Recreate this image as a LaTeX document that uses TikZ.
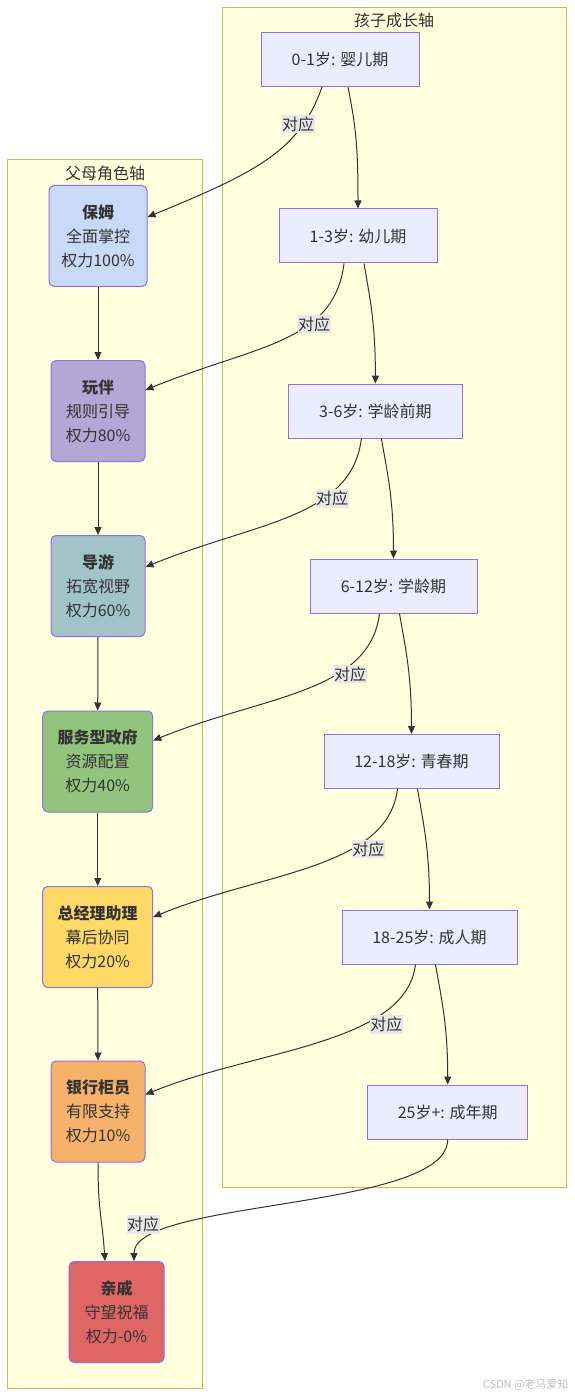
\documentclass[tikz,border=0pt]{standalone}
\usepackage{fontspec}
\setmainfont{Noto Sans CJK SC}
\usetikzlibrary{arrows.meta}
\definecolor{clfill}{HTML}{FFFFDE}
\definecolor{clborder}{HTML}{BDBD55}
\definecolor{stfill}{HTML}{ECECFF}
\definecolor{stborder}{HTML}{9370DB}
\definecolor{txt}{HTML}{333333}
\definecolor{edgec}{HTML}{333333}
\definecolor{lblbg}{HTML}{E8E8E8}
\definecolor{rA}{HTML}{C9DAF8}
\definecolor{rB}{HTML}{B4A7D6}
\definecolor{rC}{HTML}{A2C4C9}
\definecolor{rD}{HTML}{93C47D}
\definecolor{rE}{HTML}{FFD966}
\definecolor{rF}{HTML}{F6B26B}
\definecolor{rG}{HTML}{E06666}
\tikzset{
  cluster/.style={draw=clborder, fill=clfill, line width=1pt},
  stage/.style={draw=stborder, fill=stfill, line width=1pt, minimum height=54pt, inner sep=0pt, text=txt},
  role/.style={draw=stborder, line width=1pt, rounded corners=5pt, minimum height=101pt, inner sep=0pt, align=center, text=txt},
  link/.style={draw=edgec, line width=1pt, -{Triangle[length=8pt,width=7pt]}},
  lbl/.style={fill=lblbg, inner xsep=0.5pt, inner ysep=2pt, text=txt},
  ttl/.style={text=txt}
}
\begin{document}
\begin{tikzpicture}[x=1pt,y=-1pt,font=\fontsize{16}{24}\selectfont]
\useasboundingbox (0,0) rectangle (574,1396);
% clusters
\draw[cluster] (222,7.5) rectangle (566.5,1187);
\draw[cluster] (7.5,160) rectangle (202.5,1388);
\node[ttl] (tr) at (394,20) {孩子成长轴};
\node[ttl] (tl) at (105,173) {父母角色轴};
% child stages
\node[stage, minimum width=158pt] (c1) at (340,59.5) {0-1岁: 婴儿期};
\node[stage, minimum width=158pt] (c2) at (358,236) {1-3岁: 幼儿期};
\node[stage, minimum width=174.5pt] (c3) at (375.4,411) {3-6岁: 学龄前期};
\node[stage, minimum width=167pt] (c4) at (393.5,586) {6-12岁: 学龄期};
\node[stage, minimum width=175pt] (c5) at (411.5,761.5) {12-18岁: 青春期};
\node[stage, minimum width=175pt] (c6) at (429.5,937) {18-25岁: 成人期};
\node[stage, minimum width=160pt] (c7) at (447.7,1112) {25岁+: 成年期};
% parent roles
\node[role, fill=rA, minimum width=98pt] (p1) at (98,236) {\textbf{保姆}\\全面掌控\\权力100\%};
\node[role, fill=rB, minimum width=94pt] (p2) at (98,411) {\textbf{玩伴}\\规则引导\\权力80\%};
\node[role, fill=rC, minimum width=94pt] (p3) at (98,586) {\textbf{导游}\\拓宽视野\\权力60\%};
\node[role, fill=rD, minimum width=110pt] (p4) at (97.7,761.5) {\textbf{服务型政府}\\资源配置\\权力40\%};
\node[role, fill=rE, minimum width=110pt] (p5) at (97.7,937) {\textbf{总经理助理}\\幕后协同\\权力20\%};
\node[role, fill=rF, minimum width=94pt] (p6) at (98,1111.5) {\textbf{银行柜员}\\有限支持\\权力10\%};
\node[role, fill=rG, minimum width=95pt] (p7) at (116.5,1312) {\textbf{亲戚}\\守望祝福\\权力-0\%};
% child chain
\draw[link] ([xshift=8pt]c1.south) .. controls +(8,40) and +(0,-60) .. (c2.north);
\draw[link] ([xshift=6pt]c2.south) .. controls +(6,35) and +(0,-60) .. (c3.north);
\draw[link] ([xshift=6pt]c3.south) .. controls +(6,35) and +(0,-60) .. (c4.north);
\draw[link] ([xshift=6pt]c4.south) .. controls +(6,35) and +(0,-60) .. (c5.north);
\draw[link] ([xshift=6pt]c5.south) .. controls +(6,35) and +(0,-60) .. (c6.north);
\draw[link] ([xshift=6pt]c6.south) .. controls +(6,35) and +(0,-60) .. (c7.north);
% parent chain
\draw[link] (p1.south) -- (p2.north);
\draw[link] (p2.south) -- (p3.north);
\draw[link] (p3.south) -- (p4.north);
\draw[link] (p4.south) -- (p5.north);
\draw[link] (p5.south) -- (p6.north);
\draw[link] (p6.south) .. controls +(0,50) and +(-3,-45) .. ([xshift=-11.5pt]p7.north);
% correspondences
\draw[link] ([xshift=-18pt]c1.south) .. controls +(-22,63) and +(110,-45) .. ([yshift=19pt]p1.east);
\draw[link] ([xshift=-14pt]c2.south) .. controls +(-10,80) and +(110,-45) .. ([yshift=21pt]p2.east);
\draw[link] ([xshift=-14pt]c3.south) .. controls +(-10,80) and +(110,-45) .. ([yshift=19pt]p3.east);
\draw[link] ([xshift=-14pt]c4.south) .. controls +(-10,80) and +(110,-45) .. ([yshift=21pt]p4.east);
\draw[link] ([xshift=-14pt]c5.south) .. controls +(-10,80) and +(110,-45) .. ([yshift=20pt]p5.east);
\draw[link] ([xshift=-14pt]c6.south) .. controls +(-10,80) and +(110,-45) .. ([yshift=17pt]p6.east);
\draw[link] (c7.south) .. controls +(0,71) and +(0,-62) .. ([xshift=17.5pt]p7.north);
% labels
\node[lbl] (l1) at (298,124) {对应};
\node[lbl] (l2) at (314,324) {对应};
\node[lbl] (l3) at (332,498.5) {对应};
\node[lbl] (l4) at (350,674) {对应};
\node[lbl] (l5) at (368.3,849) {对应};
\node[lbl] (l6) at (386.3,1024.7) {对应};
\node[lbl] (l7) at (143,1224.5) {对应};
% watermark
\node[anchor=east, text=black!25, font=\fontsize{11}{13}\selectfont] (wm) at (572,1385) {CSDN @老马爱知};
\end{tikzpicture}
\end{document}
